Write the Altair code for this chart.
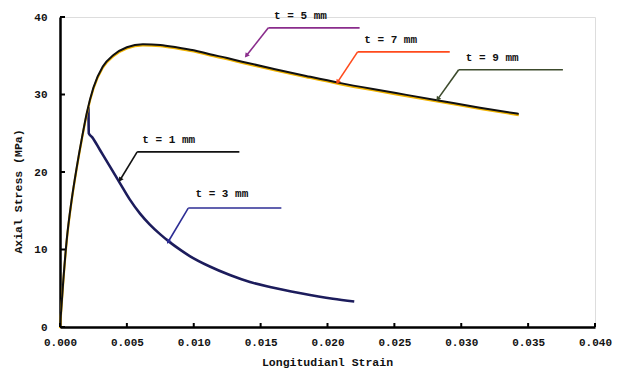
import math
import altair as alt
import pandas as pd

# ---- data ----
main_strain = [0, 0.00025, 0.0005, 0.00087, 0.00125, 0.00165, 0.002, 0.0025, 0.0032,
               0.004, 0.005, 0.0062, 0.0075, 0.0087, 0.010, 0.0112, 0.0125, 0.0137,
               0.016, 0.0184, 0.0209, 0.0234, 0.0259, 0.0284, 0.0314, 0.0343]
main_stress = [0, 6.1, 11.2, 16.4, 20.6, 24.5, 27.6, 30.9, 33.6,
               35.1, 36.1, 36.5, 36.4, 36.1, 35.7, 35.2, 34.7, 34.2,
               33.3, 32.4, 31.5, 30.7, 29.95, 29.2, 28.3, 27.5]

drop_strain = [0.00213, 0.00215, 0.0024, 0.003, 0.00374, 0.0045, 0.0052, 0.006,
               0.0067, 0.0075, 0.0082, 0.009, 0.0097, 0.0112, 0.0127, 0.0142,
               0.0157, 0.018, 0.0204, 0.022]
drop_stress = [28.4, 25.0, 24.5, 22.8, 20.7, 18.5, 16.5, 14.6,
               13.25, 11.95, 10.95, 9.95, 9.15, 7.8, 6.7, 5.8,
               5.15, 4.35, 3.65, 3.3]

ann_label = ["t = 5 mm", "t = 7 mm", "t = 9 mm", "t = 1 mm", "t = 3 mm"]
ann_text_x = [0.01798, 0.02472, 0.03232, 0.00813, 0.0121]
ann_text_y = [40.1, 37.0, 34.7, 24.1, 17.2]
ann_elbow_x = [0.01558, 0.02225, 0.02981, 0.00577, 0.00959]
ann_elbow_y = [38.6, 35.5, 33.2, 22.6, 15.35]
ann_end_x = [0.0224, 0.02914, 0.0376, 0.01341, 0.01655]
ann_tip_x = [0.01393, 0.02075, 0.02824, 0.0045, 0.00809]
ann_tip_y = [35.0, 31.6, 29.4, 19.0, 11.0]

x_ticks = [0.0, 0.005, 0.01, 0.015, 0.02, 0.025, 0.03, 0.035, 0.04]
y_ticks = [0, 10, 20, 30, 40]

# ---- styles ----
ann_colors = ["#8a2c8c", "#ff4a1c", "#3c4a2c", "#111111", "#2c2c94"]
FONT = "Liberation Mono"
W, H = 535, 310
XDOM, YDOM = [0, 0.04], [0, 40]

xs = alt.Scale(domain=XDOM, nice=False, zero=False)
ys = alt.Scale(domain=YDOM, nice=False)

main_df = pd.DataFrame({"strain": main_strain, "stress": main_stress})
drop_df = pd.DataFrame({"strain": drop_strain, "stress": drop_stress})

# annotation tables
seg_rows = []
head_rows = []
for i, lab in enumerate(ann_label):
    seg_rows.append({"label": lab, "x": ann_elbow_x[i], "y": ann_elbow_y[i],
                     "x2": ann_end_x[i], "y2": ann_elbow_y[i]})
    seg_rows.append({"label": lab, "x": ann_elbow_x[i], "y": ann_elbow_y[i],
                     "x2": ann_tip_x[i], "y2": ann_tip_y[i]})
    dxp = (ann_tip_x[i] - ann_elbow_x[i]) * W / (XDOM[1] - XDOM[0])
    dyp = -(ann_tip_y[i] - ann_elbow_y[i]) * H / (YDOM[1] - YDOM[0])
    ang = math.degrees(math.atan2(dxp, -dyp)) % 360
    head_rows.append({"label": lab, "x": ann_tip_x[i], "y": ann_tip_y[i], "angle": ang})
seg_df = pd.DataFrame(seg_rows)
head_df = pd.DataFrame(head_rows)
text_df = pd.DataFrame({"label": ann_label, "x": ann_text_x, "y": ann_text_y})

color_scale = alt.Scale(domain=ann_label, range=ann_colors)

x_enc = alt.X("strain:Q", scale=xs, title="Longitudianl Strain",
              axis=alt.Axis(values=x_ticks, format=".3f", ticks=False, grid=False,
                            labelFlush=False, labelOverlap=False,
                            domainWidth=2.5, domainColor="#000000",
                            labelFont=FONT, labelFontSize=11, labelFontWeight="bold",
                            labelColor="#111111", labelPadding=9,
                            titleFont=FONT, titleFontSize=11.5, titleFontWeight="bold",
                            titleColor="#111111", titleX=267, titleY=35,
                            titleBaseline="middle", titleAlign="center"))
y_enc = alt.Y("stress:Q", scale=ys, title="Axial Stress (MPa)",
              axis=alt.Axis(values=y_ticks, format="d", ticks=False, grid=False,
                            labelFlush=False, labelOverlap=False,
                            domainWidth=2.5, domainColor="#000000",
                            labelFont=FONT, labelFontSize=11, labelFontWeight="bold",
                            labelColor="#111111", labelPadding=13,
                            titleFont=FONT, titleFontSize=11.5, titleFontWeight="bold",
                            titleColor="#111111", titleX=-42, titleY=174,
                            titleBaseline="middle", titleAlign="center", titleAngle=-90))

drop_line = alt.Chart(drop_df).mark_line(color="#1c1c5c", strokeWidth=2.6,
                                         interpolate="monotone").encode(
    x=x_enc, y=y_enc, order="strain:Q")

main_under = alt.Chart(main_df).mark_line(color="#f2b400", strokeWidth=2.2, yOffset=1.2,
                                          interpolate="monotone").encode(
    x=alt.X("strain:Q", scale=xs), y=alt.Y("stress:Q", scale=ys))
main_line = alt.Chart(main_df).mark_line(color="#111111", strokeWidth=2.0,
                                         interpolate="monotone").encode(
    x=alt.X("strain:Q", scale=xs), y=alt.Y("stress:Q", scale=ys))

segs = alt.Chart(seg_df).mark_rule(strokeWidth=1.6).encode(
    x=alt.X("x:Q", scale=xs), y=alt.Y("y:Q", scale=ys),
    x2="x2:Q", y2="y2:Q",
    color=alt.Color("label:N", scale=color_scale, legend=None))

heads = alt.Chart(head_df).mark_point(shape="triangle-up", filled=True, size=28,
                                      opacity=1).encode(
    x=alt.X("x:Q", scale=xs), y=alt.Y("y:Q", scale=ys),
    angle=alt.Angle("angle:Q", scale=None),
    color=alt.Color("label:N", scale=color_scale, legend=None))

texts = alt.Chart(text_df).mark_text(font=FONT, fontSize=11, fontWeight="bold",
                                     color="#111111", align="center",
                                     baseline="middle").encode(
    x=alt.X("x:Q", scale=xs), y=alt.Y("y:Q", scale=ys), text="label:N")

xt_df = pd.DataFrame({"v": x_ticks})
yt_df = pd.DataFrame({"v": y_ticks})
xticks = alt.Chart(xt_df).mark_rule(color="#000000", strokeWidth=2).encode(
    x=alt.X("v:Q", scale=xs), y=alt.value(H), y2=alt.value(H - 4))
yticks = alt.Chart(yt_df).mark_rule(color="#000000", strokeWidth=2).encode(
    y=alt.Y("v:Q", scale=ys), x=alt.value(0), x2=alt.value(5))

chart = alt.layer(drop_line, main_under, main_line, segs, heads, texts,
                  xticks, yticks).properties(
    width=W, height=H,
    autosize=alt.AutoSizeParams(type="none"),
    padding={"left": 60, "top": 17, "right": 26, "bottom": 43},
).configure_view(stroke=None).configure(background="#ffffff")

chart.save("out.html", embed_options={"renderer": "svg", "actions": False})
